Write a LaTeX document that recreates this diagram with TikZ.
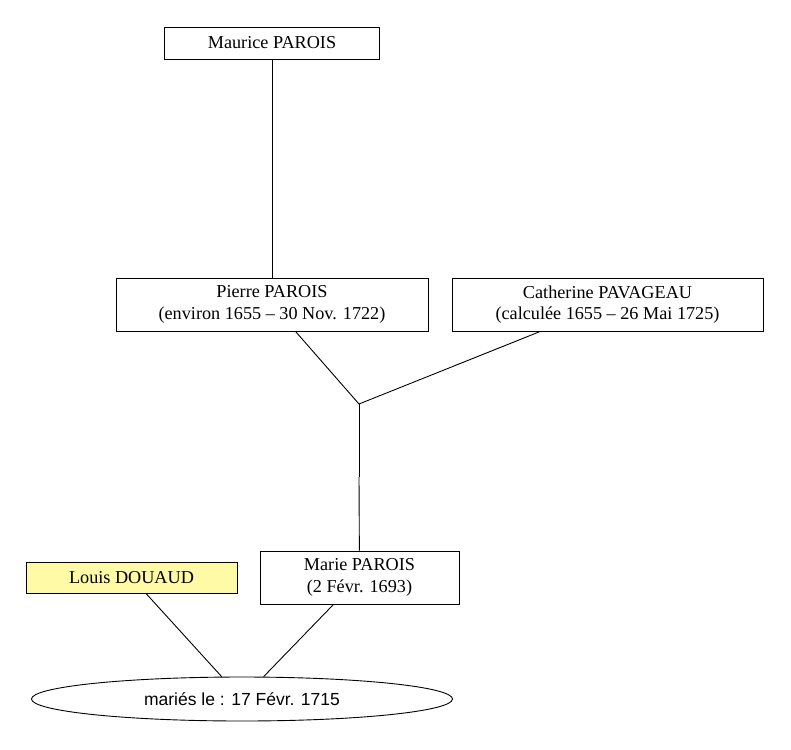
\documentclass[tikz,border=0pt]{standalone}
\usepackage{fontspec}
\setmainfont{Liberation Serif}
\setsansfont{Liberation Sans}
\usetikzlibrary{shapes}

\begin{document}
\begin{tikzpicture}[x=1pt,y=-1pt]
      \tikzstyle{person}=[rectangle,draw=black,line width=0.9pt,inner sep=0pt,minimum height=53pt,align=center,font=\fontsize{18.2}{21.5}\selectfont]
      \tikzstyle{spouse}=[person,fill=yellow!35,minimum height=31pt]
      \tikzstyle{union}=[ellipse,draw=black,line width=0.9pt,inner sep=0pt,minimum width=421pt,minimum height=44pt,font=\sffamily\fontsize{17.5}{20}\selectfont]
      \tikzstyle{link}=[line width=0.9pt]

      \useasboundingbox (0,0) rectangle (791,749);

      \coordinate(m1) at (272,131);
      \coordinate(m2) at (272,205);
      \coordinate(couple) at (359,404);
      \coordinate(d1) at (359,477);
      \node[union](mariage) at (242,699){mariés le : 17 Févr. 1715};

      \node[person,minimum width=215pt,minimum height=32pt](maurice) at (272,43){Maurice PAROIS}
      edge[link](m1);
      \node[person,minimum width=312pt](pierre) at (272,304.5){Pierre PAROIS\\(environ 1655 -- 30 Nov. 1722)}
      edge[link](m2)
      edge[link](couple);
      \node[person,minimum width=311pt](catherine) at (607.5,304.5){Catherine PAVAGEAU\\(calculée 1655 -- 26 Mai 1725)}
      edge[link](couple);
      \node[person,minimum width=199pt](marie) at (359.5,577.5){Marie PAROIS\\(2 Févr. 1693)}
      edge[link](d1)
      edge[link](mariage);
      \node[spouse,minimum width=211pt](louis) at (131.5,577.5){Louis DOUAUD}
      edge[link](mariage);

      \draw[link] (m1) -- (m2);
      \draw[link] (couple) -- (d1);
\end{tikzpicture}
\end{document}
